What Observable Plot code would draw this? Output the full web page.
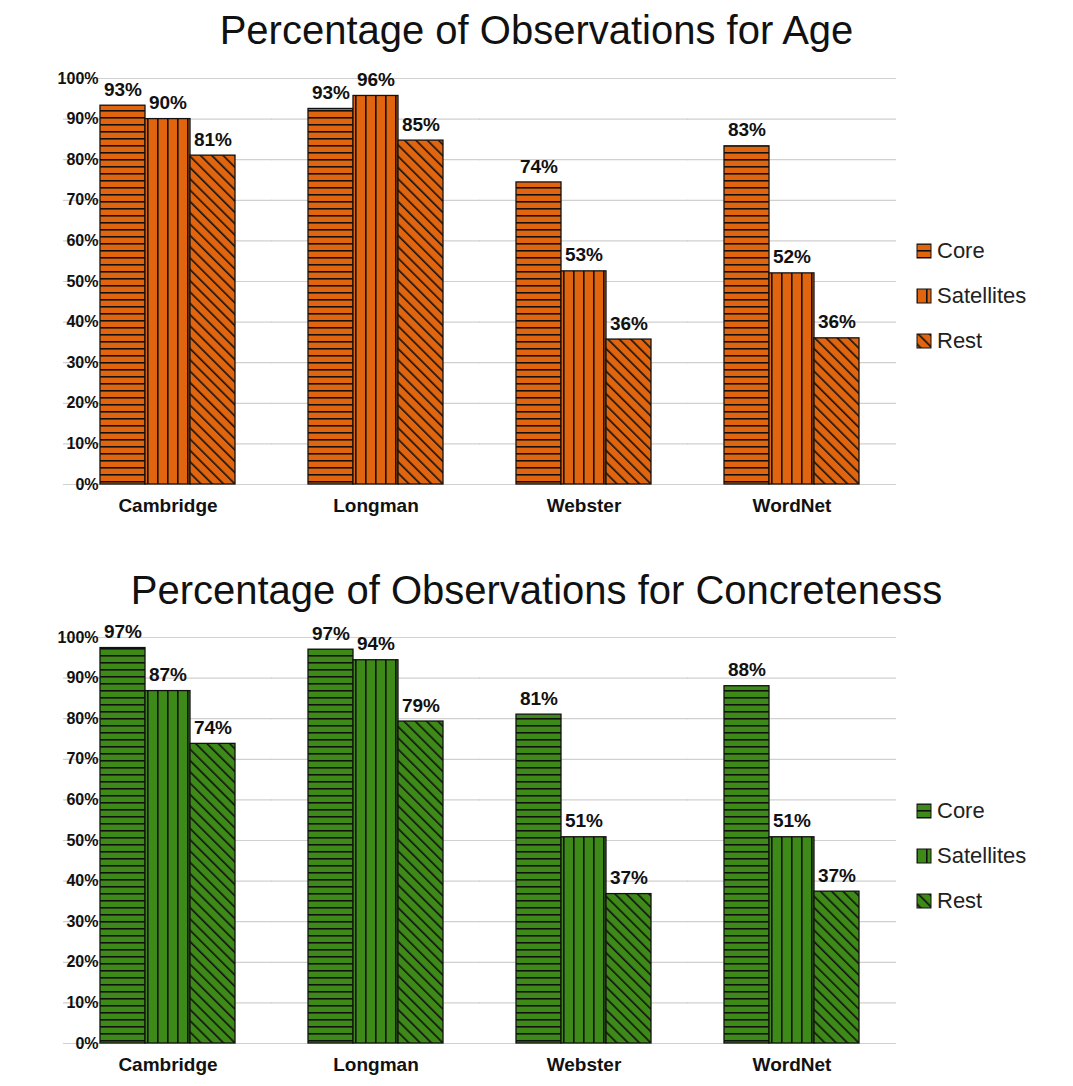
<!DOCTYPE html>
<html><head><meta charset="utf-8">
<script src="https://cdn.jsdelivr.net/npm/d3@7"></script>
<script src="https://cdn.jsdelivr.net/npm/@observablehq/plot@0.6"></script>
<style>
body{margin:0;background:#fff;font-family:"Liberation Sans",Arial,sans-serif}
#wrap{position:relative;width:1073px;height:1086px}
.title{position:absolute;left:0;width:1073px;text-align:center;font-size:40px;color:#111;line-height:44px}
.chart{position:absolute;left:0}
.legend{position:absolute;left:916px;font-size:22px;color:#222}
.legend div{height:45px;display:flex;align-items:center}
.legend svg{margin-right:5px}
</style></head>
<body><div id="wrap"></div>
<script>
// datos
const dictionaries = ["Cambridge", "Longman", "Webster", "WordNet"];
const seriesNames = ["Core", "Satellites", "Rest"];
const ageCore = [93.3, 92.5, 74.4, 83.3];
const ageSat = [90, 95.7, 52.5, 52];
const ageRest = [81, 84.7, 35.7, 36];
const concCore = [97.4, 97, 81, 88];
const concSat = [86.8, 94.4, 50.8, 50.8];
const concRest = [73.8, 79.3, 36.8, 37.4];
const yTicks = [0, 10, 20, 30, 40, 50, 60, 70, 80, 90, 100];

const wrap = document.getElementById("wrap");

function rows(core, sat, rest) {
  const out = [];
  dictionaries.forEach((d, i) => {
    out.push({dict: d, series: "Core", value: core[i]});
    out.push({dict: d, series: "Satellites", value: sat[i]});
    out.push({dict: d, series: "Rest", value: rest[i]});
  });
  return out;
}

function defs(id, color) {
  return `<pattern id="${id}-h" width="8" height="7" patternUnits="userSpaceOnUse"><rect width="8" height="7" fill="${color}"/><rect y="0" width="8" height="1.6" fill="#111"/></pattern>
  <pattern id="${id}-v" width="10" height="8" patternUnits="userSpaceOnUse"><rect width="10" height="8" fill="${color}"/><rect x="0" width="1.6" height="8" fill="#111"/></pattern>
  <pattern id="${id}-d" width="8" height="8" patternUnits="userSpaceOnUse" patternTransform="rotate(-45)"><rect width="8" height="8" fill="${color}"/><rect x="0" width="1.6" height="8" fill="#111"/></pattern>`;
}
const patKey = {Core: "h", Satellites: "v", Rest: "d"};

function chart(id, color, data, top, titleText, titleTop, legendTop) {
  const t = document.createElement("div");
  t.className = "title"; t.style.top = titleTop + "px"; t.textContent = titleText;
  wrap.appendChild(t);

  const marks = [
    Plot.ruleY(yTicks, {stroke: "#d0d0d0", strokeWidth: 1.2, insetLeft: -37, insetRight: -37}),
    Plot.axisY(yTicks, {tickFormat: d => d + "%", tickSize: 0, tickPadding: 2, fontSize: 16, fontWeight: "bold", label: null}),
    Plot.axisFx({anchor: "bottom", tickSize: 0, tickPadding: 14, fontSize: 19, fontWeight: "bold", label: null})
  ];
  seriesNames.forEach(s => {
    const sub = data.filter(d => d.series === s);
    marks.push(Plot.barY(sub, {fx: "dict", x: "series", y: "value", fill: `url(#${id}-${patKey[s]})`, stroke: "#111", strokeWidth: 1.3}));
  });
  marks.push(Plot.text(data, {fx: "dict", x: "series", y: "value", text: d => Math.round(d.value) + "%", dy: -16, fontSize: 19, fontWeight: "bold", fill: "#111"}));

  const p = Plot.plot({
    width: 900, height: 466,
    marginLeft: 63, marginRight: 4, marginTop: 17, marginBottom: 43,
    style: {fontFamily: "Liberation Sans, Arial, sans-serif", color: "#111"},
    fx: {domain: dictionaries, paddingInner: 0.35, paddingOuter: 0.175},
    x: {domain: seriesNames, axis: null, padding: 0},
    y: {domain: [0, 100]},
    marks
  });
  d3.select(p).insert("defs", ":first-child").html(defs(id, color));
  p.classList.add("chart");
  p.style.top = top + "px";
  p.style.overflow = "visible";
  wrap.appendChild(p);

  const lg = document.createElement("div");
  lg.className = "legend"; lg.style.top = legendTop + "px";
  lg.innerHTML = seriesNames.map(s =>
    `<div><svg width="16" height="16"><defs>${defs(id + "L" + s, color)}</defs><rect x="1" y="1" width="14" height="14" fill="url(#${id}L${s}-${patKey[s]})" stroke="#111"/></svg>${s}</div>`
  ).join("");
  wrap.appendChild(lg);
}

chart("age", "#E1650F", rows(ageCore, ageSat, ageRest), 61, "Percentage of Observations for Age", 8, 228);
chart("conc", "#3E8A18", rows(concCore, concSat, concRest), 620, "Percentage of Observations for Concreteness", 568, 788);
</script></body></html>
